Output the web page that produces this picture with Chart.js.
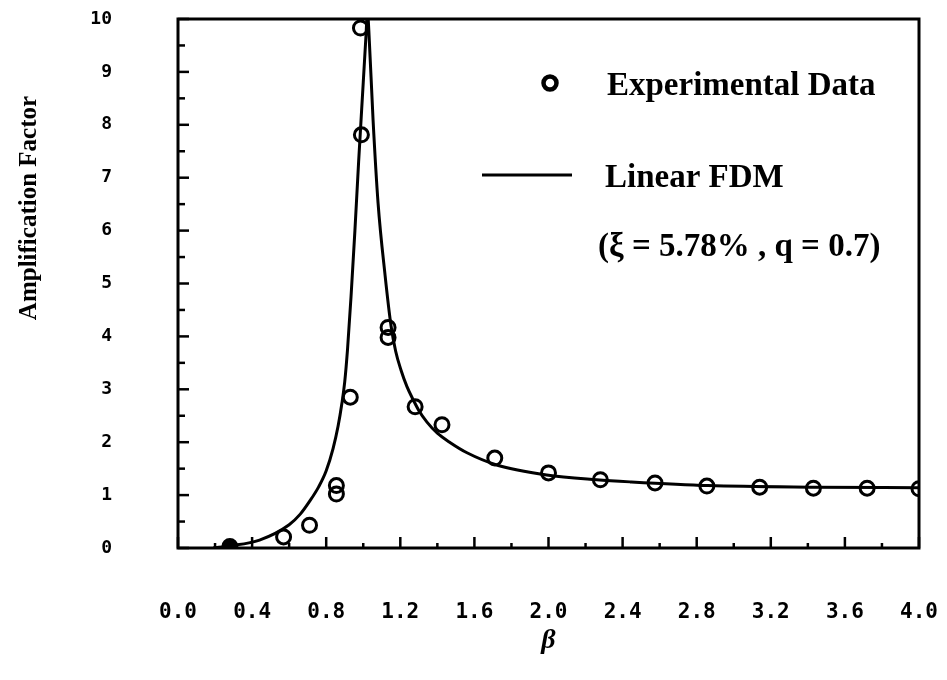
<!DOCTYPE html>
<html>
<head>
<meta charset="utf-8">
<script src="https://cdn.jsdelivr.net/npm/chart.js@4"></script>
<style>
  html, body { margin: 0; padding: 0; background: #fff; }
</style>
</head>
<body>
<canvas id="myChart" width="947" height="680"></canvas>
<script>
// experimental points (beta, amplification)
const expBeta = [0.28, 0.57, 0.71, 0.855, 0.855, 0.93, 0.99, 0.985, 1.134, 1.134, 1.28, 1.425, 1.71, 2.0, 2.28, 2.575, 2.855, 3.14, 3.43, 3.72, 4.0];
const expAmp  = [0.03, 0.21, 0.43, 1.02, 1.18, 2.85, 7.81, 9.83, 3.98, 4.17, 2.67, 2.33, 1.70, 1.42, 1.29, 1.23, 1.17, 1.15, 1.13, 1.13, 1.12];

// Linear FDM curve
const fdmBeta = [0.19, 0.28, 0.44, 0.60, 0.66, 0.71, 0.76, 0.80, 0.837, 0.864, 0.885, 0.90, 0.915, 0.934, 0.955, 0.975, 1.00, 1.015, 1.023,
                 1.03, 1.053, 1.08, 1.118, 1.15, 1.175, 1.204, 1.236, 1.27, 1.30, 1.344, 1.40, 1.47, 1.56, 1.72, 1.99, 2.26, 2.44, 2.86, 3.43, 4.0];
const fdmAmp  = [0.00, 0.04, 0.15, 0.44, 0.64, 0.88, 1.16, 1.46, 1.88, 2.30, 2.74, 3.14, 3.75, 4.75, 6.00, 7.30, 8.80, 9.70, 10.15,
                 9.79, 8.09, 6.52, 5.15, 4.20, 3.72, 3.36, 3.05, 2.80, 2.60, 2.38, 2.17, 1.99, 1.80, 1.57, 1.38, 1.29, 1.25, 1.18, 1.15, 1.14];

const xTicks = ['0.0', '0.4', '0.8', '1.2', '1.6', '2.0', '2.4', '2.8', '3.2', '3.6', '4.0'];
const yTicks = ['0', '1', '2', '3', '4', '5', '6', '7', '8', '9', '10'];

const tickFont = 'DejaVu Sans Mono';
const serif = 'Liberation Serif';

// frame, inward ticks, y title and the legend box
const decor = {
  id: 'decor',
  afterDraw(chart) {
    const c = chart.ctx;
    const a = chart.chartArea;
    const xs = chart.scales.x, ys = chart.scales.y;
    c.save();
    c.strokeStyle = '#000';
    c.lineWidth = 3;
    c.strokeRect(a.left, a.top, a.right - a.left, a.bottom - a.top);

    c.lineWidth = 2.5;
    xs.ticks.forEach(t => {
      const px = xs.getPixelForValue(t.value);
      const major = Math.round(t.value * 10) % 4 === 0;
      const len = major ? 11 : 5;
      c.beginPath();
      c.moveTo(px, a.bottom);
      c.lineTo(px, a.bottom - len);
      c.stroke();
    });
    ys.ticks.forEach(t => {
      const py = ys.getPixelForValue(t.value);
      const major = Math.abs(t.value - Math.round(t.value)) < 1e-6;
      const len = major ? 11 : 7;
      c.beginPath();
      c.moveTo(a.left, py);
      c.lineTo(a.left + len, py);
      c.stroke();
    });

    // y axis title
    c.fillStyle = '#000';
    c.font = 'bold 25px "' + serif + '"';
    c.textAlign = 'center';
    c.textBaseline = 'middle';
    c.translate(30, 208);
    c.rotate(-Math.PI / 2);
    c.fillText('Amplification Factor', 0, 0);
    c.restore();

    // legend
    c.save();
    c.strokeStyle = '#000';
    c.fillStyle = '#000';
    c.lineWidth = 4.5;
    c.beginPath();
    c.arc(550, 83, 6.5, 0, Math.PI * 2);
    c.stroke();
    c.lineWidth = 3;
    c.beginPath();
    c.moveTo(482, 175);
    c.lineTo(572, 175);
    c.stroke();
    c.font = 'bold 33px "' + serif + '"';
    c.textAlign = 'left';
    c.textBaseline = 'alphabetic';
    c.fillText('Experimental Data', 607, 95);
    c.fillText('Linear FDM', 605, 187);
    c.fillText('(\u03BE = 5.78% , q = 0.7)', 598, 256);
    c.restore();
  }
};

new Chart(document.getElementById('myChart'), {
  type: 'scatter',
  data: {
    datasets: [{
      label: 'Experimental Data',
      data: expBeta.map((b, i) => ({x: b, y: expAmp[i]})),
      pointStyle: 'circle',
      pointRadius: 7,
      pointBorderWidth: 3,
      borderColor: '#000',
      pointBackgroundColor: (ctx) => ctx.dataIndex === 0 ? '#000' : 'rgba(0,0,0,0)',
      showLine: false,
      order: 1
    }, {
      label: 'Linear FDM',
      data: fdmBeta.map((b, i) => ({x: b, y: fdmAmp[i]})),
      showLine: true,
      borderColor: '#000',
      borderWidth: 3,
      pointRadius: 0,
      cubicInterpolationMode: 'monotone',
      order: 2
    }]
  },
  options: {
    responsive: false,
    animation: false,
    layout: { padding: { left: 0, right: 28, top: 19, bottom: 0 } },
    plugins: {
      legend: { display: false },
      tooltip: { enabled: false }
    },
    scales: {
      x: {
        type: 'linear',
        min: 0, max: 4,
        afterFit: (s) => { s.height = 132; s.paddingLeft = 0; s.paddingRight = 0; },
        grid: { display: false },
        border: { display: false },
        ticks: {
          stepSize: 0.2,
          padding: 44,
          maxRotation: 0,
          autoSkip: false,
          color: '#000',
          font: { family: tickFont, size: 21, weight: 'bold' },
          callback: (v) => {
            const k = Math.round(v * 10);
            return k % 4 === 0 ? xTicks[k / 4] : '';
          }
        },
        title: {
          display: true,
          text: '\u03B2',
          color: '#000',
          font: { family: serif, size: 28, style: 'italic', weight: 'bold' },
          padding: { top: 0, bottom: 22 }
        }
      },
      y: {
        type: 'linear',
        min: 0, max: 10,
        afterFit: (s) => { s.width = 178; s.paddingTop = 0; s.paddingBottom = 0; },
        grid: { display: false },
        border: { display: false },
        ticks: {
          stepSize: 0.5,
          padding: 58,
          autoSkip: false,
          color: '#000',
          font: { family: tickFont, size: 18, weight: 'bold' },
          callback: (v) => Number.isInteger(v) ? yTicks[v] : ''
        }
      }
    }
  },
  plugins: [decor]
});
</script>
</body>
</html>
